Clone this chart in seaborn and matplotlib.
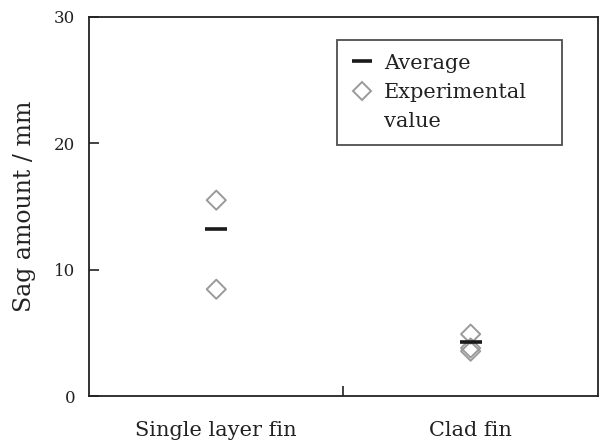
import matplotlib
matplotlib.use("Agg")
import matplotlib.pyplot as plt
import seaborn as sns
import pandas as pd
from matplotlib.lines import Line2D

categories = ["Single layer fin", "Clad fin"]
exp_category = ["Single layer fin", "Single layer fin", "Clad fin", "Clad fin", "Clad fin"]
exp_values = [15.5, 8.45, 4.9, 3.8, 3.55]
avg_values = [13.2, 4.25]
y_ticks = [0, 10, 20, 30]

sns.set_theme(style="white")
plt.rcParams["font.family"] = ["DejaVu Serif"]

fig = plt.figure(figsize=(6.02, 4.45), dpi=100)
ax = fig.add_axes([0.148, 0.110, 0.845, 0.852])

exp_df = pd.DataFrame({"cat": exp_category, "val": exp_values})
avg_df = pd.DataFrame({"cat": categories, "val": avg_values})

grey = "#9a9a9a"
sns.scatterplot(data=exp_df, x="cat", y="val", marker="D", s=95,
                facecolor="none", edgecolor=grey, linewidth=1.4, ax=ax, zorder=3)
sns.scatterplot(data=avg_df, x="cat", y="val", marker="_", s=230,
                color="#1a1a1a", linewidth=2.6, ax=ax, zorder=4)

ax.set_xlim(-0.5, 1.5)
ax.set_ylim(0, 30)
ax.set_yticks(y_ticks)
ax.set_xticks([0, 1])
ax.set_xticklabels(categories, fontsize=15, color="#222222")
ax.set_xticks([0.5], minor=True)
ax.tick_params(axis="x", which="major", length=0, pad=18)
ax.tick_params(axis="x", which="minor", direction="in", length=7, width=1.2, color="#222222", bottom=True)
ax.tick_params(axis="y", direction="in", length=7, width=1.2, color="#222222",
               labelsize=12, labelcolor="#222222", pad=10, left=True)
ax.set_xlabel("")
ax.set_ylabel("Sag amount / mm", fontsize=17, labelpad=13, color="#222222")

for sp in ax.spines.values():
    sp.set_color("#222222")
    sp.set_linewidth(1.3)

handles = [
    Line2D([], [], color="#1a1a1a", linestyle="none", marker="_", markersize=15, markeredgewidth=2.6),
    Line2D([], [], color=grey, linestyle="none", marker="D", markersize=9.5,
           markerfacecolor="none", markeredgewidth=1.4),
    Line2D([], [], linestyle="none", marker=None),
]
leg = ax.legend(handles, ["Average", "Experimental", "value"], loc="upper left",
                bbox_to_anchor=(0.487, 0.5, 0.442, 0.439), mode="expand",
                frameon=True, fancybox=False,
                edgecolor="#222222", fontsize=15, handlelength=1.1, handletextpad=0.5,
                borderpad=0.65, labelspacing=0.5, borderaxespad=0)
leg.get_frame().set_linewidth(1.3)
for t in leg.get_texts():
    t.set_color("#222222")

fig.savefig("out.png", dpi=100)
